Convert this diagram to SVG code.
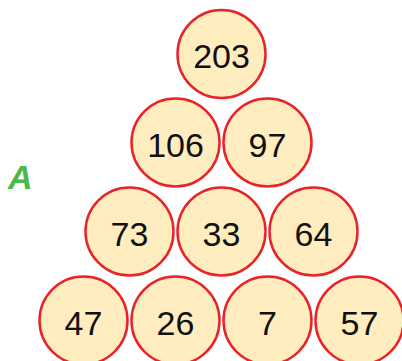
<svg xmlns="http://www.w3.org/2000/svg" width="402" height="361" viewBox="0 0 402 361">
<style>
.n circle{fill:#ffedc0;stroke:#e8242b;stroke-width:2.5}
.n text{font-family:"Liberation Sans",Arial,sans-serif;font-size:34px;fill:#111;text-anchor:middle}
.lbl{font-family:"Liberation Sans",Arial,sans-serif;font-size:34px;font-weight:bold;font-style:italic;fill:#4cb84a}
</style>
<rect width="402" height="361" fill="#fff"/>
<text class="lbl" x="8" y="189">A</text>
<g id="n203" class="n"><circle cx="221.5" cy="54" r="44"/><text x="221.5" y="68">203</text></g>
<g id="n106" class="n"><circle cx="175.5" cy="142.5" r="44"/><text x="175.5" y="156.5">106</text></g>
<g id="n97" class="n"><circle cx="267.5" cy="142.5" r="44"/><text x="267.5" y="156.5">97</text></g>
<g id="n73" class="n"><circle cx="129.5" cy="231.5" r="44"/><text x="129.5" y="245.5">73</text></g>
<g id="n33" class="n"><circle cx="221.5" cy="231.5" r="44"/><text x="221.5" y="245.5">33</text></g>
<g id="n64" class="n"><circle cx="313.5" cy="231.5" r="44"/><text x="313.5" y="245.5">64</text></g>
<g id="n47" class="n"><circle cx="83.5" cy="320.5" r="44"/><text x="83.5" y="334.5">47</text></g>
<g id="n26" class="n"><circle cx="175.5" cy="320.5" r="44"/><text x="175.5" y="334.5">26</text></g>
<g id="n7" class="n"><circle cx="267.5" cy="320.5" r="44"/><text x="267.5" y="334.5">7</text></g>
<g id="n57" class="n"><circle cx="359.5" cy="320.5" r="44"/><text x="359.5" y="334.5">57</text></g>
<g id="connectors"></g>
</svg>
